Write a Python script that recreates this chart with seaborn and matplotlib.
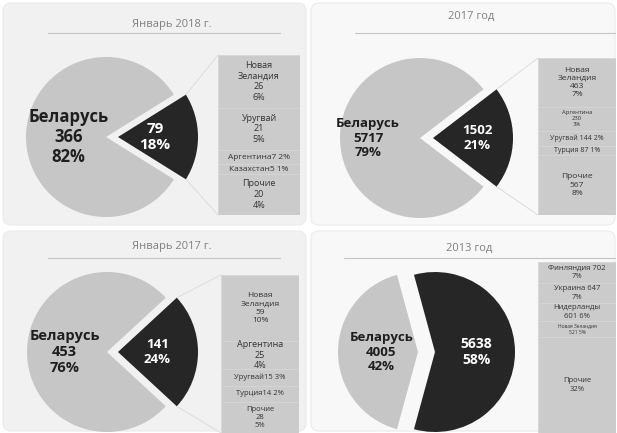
import numpy as np
import matplotlib
matplotlib.use("Agg")
import matplotlib.pyplot as plt
from matplotlib.patches import FancyBboxPatch
import seaborn as sns

sns.set_theme(style="white")
plt.rcParams['font.family'] = ['Open Sans', 'DejaVu Sans']

W, H = 617, 433

# данные по четырём периодам
titles = ["Январь 2018 г.", "2017 год", "Январь 2017 г.", "2013 год"]
belarus = [366, 5717, 453, 4005]
belarus_pct = [82, 79, 76, 42]
other = [79, 1502, 141, 5638]
other_pct = [18, 21, 24, 58]

# расшифровка "прочих" стран (столбец справа)
bar_vals_jan2018 = [26, 21, 7, 5, 20]
bar_labels_jan2018 = ["Новая\nЗеландия\n26\n6%", "Уругвай\n21\n5%",
                      "Аргентина7 2%", "Казахстан5 1%", "Прочие\n20\n4%"]

bar_vals_2017 = [463, 230, 144, 87, 567]
bar_labels_2017 = ["Новая\nЗеландия\n463\n7%", "Аргентина\n230\n3%",
                   "Уругвай 144 2%", "Турция 87 1%", "Прочие\n567\n8%"]

bar_vals_jan2017 = [59, 25, 15, 14, 28]
bar_labels_jan2017 = ["Новая\nЗеландия\n59\n10%", "Аргентина\n25\n4%",
                      "Уругвай15 3%", "Турция14 2%", "Прочие\n28\n5%"]

bar_vals_2013 = [702, 647, 601, 521, 3167]
bar_labels_2013 = ["Финляндия 702\n7%", "Украина 647\n7%", "Нидерланды\n601 6%",
                   "Новая Зеландия\n521 5%", "Прочие\n32%"]

bar_vals = [bar_vals_jan2018, bar_vals_2017, bar_vals_jan2017, bar_vals_2013]
bar_labels = [bar_labels_jan2018, bar_labels_2017, bar_labels_jan2017, bar_labels_2013]

# раскладка (в пикселях картинки, y вниз)
layout = [
    dict(panel=(2, 2, 307, 226), bg='#f1f1f1', center=(106, 137), r=80, explode=12,
         ld=0.47, dd=0.46, fs=12, fsd=11, bar=(218, 55, 300, 215),
         title=(172, 24), line=(48, 280, 33), bfs=[6.5, 6.5, 6, 6, 6.5], conn=True),
    dict(panel=(310, 2, 616, 226), bg='#f8f8f8', center=(420, 138), r=80, explode=13,
         ld=0.65, dd=0.55, fs=9.5, fsd=9.5, bar=(538, 58, 616, 215),
         title=(471, 16), line=(355, 615, 33), bfs=[6, 4.2, 5, 5, 6], conn=True),
    dict(panel=(2, 230, 307, 432), bg='#f1f1f1', center=(107, 352), r=80, explode=11,
         ld=0.53, dd=0.49, fs=10.5, fsd=9.5, bar=(221, 275, 299, 433),
         title=(172, 247), line=(48, 280, 258), bfs=[6, 6.5, 5.5, 5.5, 5.5], conn=True),
    dict(panel=(310, 230, 616, 432), bg='#f8f8f8', center=(418, 352), r=80, explode=17,
         ld=0.46, dd=0.52, fs=9.5, fsd=10, bar=(538, 262, 616, 433),
         title=(469, 248), line=(344, 615, 258), bfs=[5.5, 5.5, 5.5, 3.5, 5.5], conn=False),
]

LIGHT = '#c6c6c6'
DARK = '#262626'
BAR = '#cbcbcb'

fig = plt.figure(figsize=(W / 100, H / 100), dpi=100)
fig.patch.set_facecolor('white')
ax = fig.add_axes([0, 0, 1, 1])

for i, lay in enumerate(layout):
    # фон панели
    px0, py0, px1, py1 = lay['panel']
    ax.add_patch(FancyBboxPatch((px0 + 4, H - py1 + 4), px1 - px0 - 8, py1 - py0 - 8,
                                boxstyle="round,pad=3,rounding_size=8",
                                facecolor=lay['bg'], edgecolor='#ebebeb', lw=0.8, zorder=0))

    # заголовок и линия под ним
    tx, ty = lay['title']
    ax.text(tx, H - ty, titles[i], ha='center', va='center', fontsize=8, color='#808080')
    lx0, lx1, ly = lay['line']
    ax.plot([lx0, lx1], [H - ly, H - ly], color='#c4c4c4', lw=0.8)

    # круговая диаграмма
    cx, cy = lay['center']
    r = lay['r']
    f2 = other[i] / (belarus[i] + other[i])
    wedges, _ = ax.pie([belarus[i], other[i]], colors=[LIGHT, DARK],
                       startangle=180 * f2, counterclock=True,
                       explode=[0, lay['explode']], radius=r, center=(cx, H - cy),
                       wedgeprops=dict(linewidth=0))

    wl, wd = wedges
    x, y = wl.center
    ax.text(x - lay['ld'] * r, y, f"Беларусь\n{belarus[i]}\n{belarus_pct[i]}%",
            ha='center', va='center', fontsize=lay['fs'], fontweight='bold',
            color='#1e1e1e', linespacing=1.15)
    x, y = wd.center
    ax.text(x + lay['dd'] * r, y, f"{other[i]}\n{other_pct[i]}%",
            ha='center', va='center', fontsize=lay['fsd'], fontweight='bold',
            color='white', linespacing=1.2)

    # соединительные линии
    bx0, by0, bx1, by1 = lay['bar']
    if lay['conn']:
        t1, t2 = np.deg2rad(wd.theta1), np.deg2rad(wd.theta2)
        ax.plot([x + r * np.cos(t2), bx0], [y + r * np.sin(t2), H - by0],
                color='#dcdcdc', lw=0.7, zorder=0.5)
        ax.plot([x + r * np.cos(t1), bx0], [y + r * np.sin(t1), H - by1],
                color='#dcdcdc', lw=0.7, zorder=0.5)

    # столбец с расшифровкой
    vals = np.array(bar_vals[i])
    bottoms = np.concatenate([[0], np.cumsum(vals)[:-1]])
    bax = fig.add_axes([bx0 / W, 1 - by1 / H, (bx1 - bx0) / W, (by1 - by0) / H])
    bax.bar(np.zeros(len(vals)), vals, bottom=bottoms, width=1, color=BAR,
            edgecolor='#d6d6d6', linewidth=0.5)
    bax.set_xlim(-0.5, 0.5)
    bax.set_ylim(vals.sum(), 0)
    bax.axis('off')
    for b, v, lab, fs in zip(bottoms, vals, bar_labels[i], lay['bfs']):
        bax.text(0, b + v / 2, lab, ha='center', va='center', fontsize=fs,
                 color='#333333', linespacing=1.25)

ax.set_xlim(0, W)
ax.set_ylim(0, H)
ax.set_aspect('auto')
ax.axis('off')

fig.savefig('out.png', dpi=100)
